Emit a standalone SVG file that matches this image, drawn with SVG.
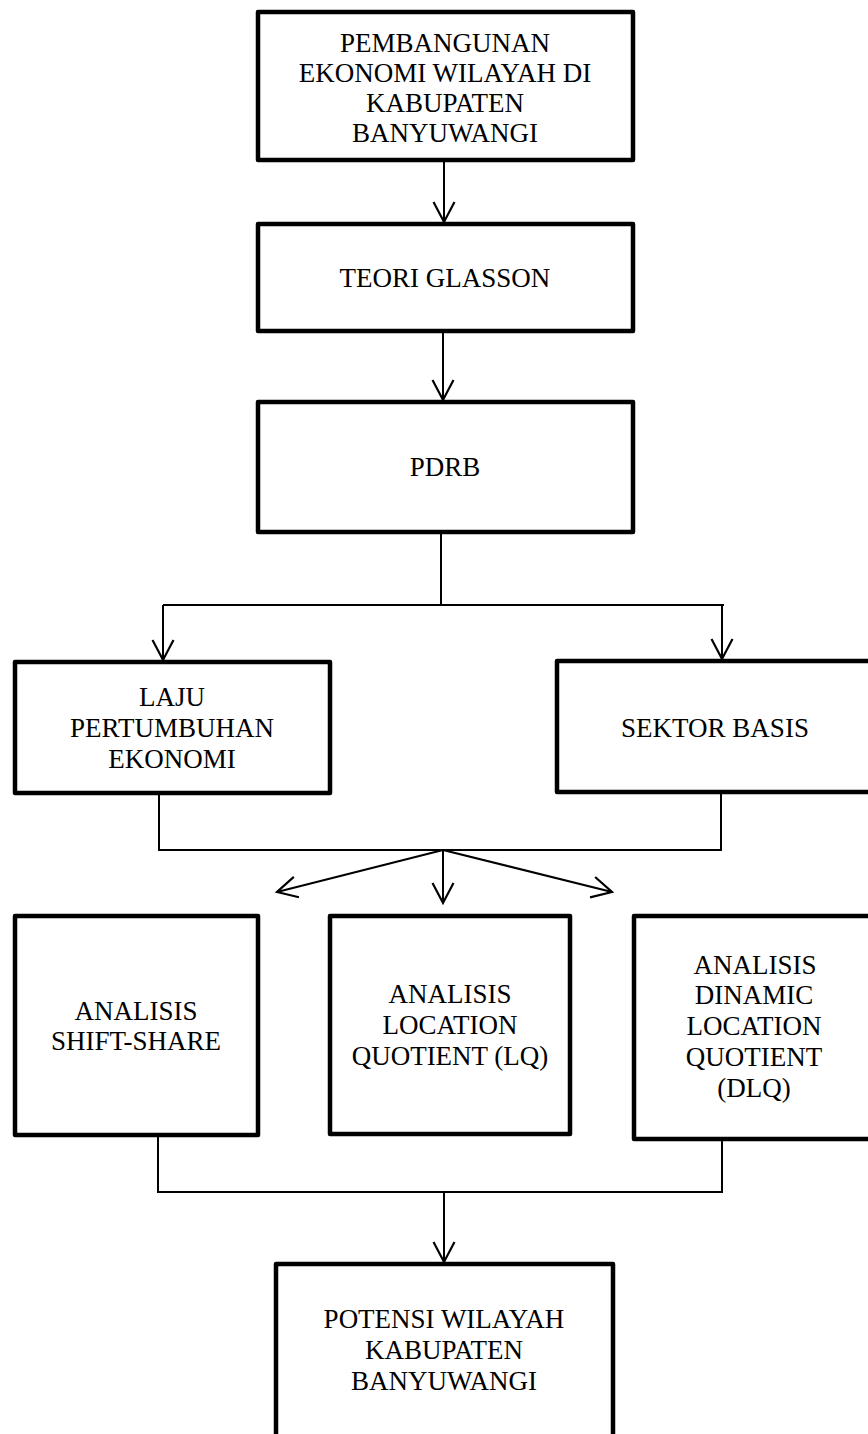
<svg xmlns="http://www.w3.org/2000/svg" width="868" height="1434" viewBox="0 0 868 1434">
<defs>
<style>
.box{fill:#fff;stroke:#000;stroke-width:4.5;stroke-linejoin:round}
.t{font-family:"Liberation Serif","Times New Roman",serif;font-size:27px;fill:#000;text-anchor:middle}
.c{fill:none;stroke:#000;stroke-width:2}
.a{fill:none;stroke:#000;stroke-width:2}
</style>
<marker id="ah" viewBox="-24 -14 28 28" markerWidth="28" markerHeight="28" refX="0" refY="0" orient="auto" markerUnits="userSpaceOnUse" overflow="visible">
<path d="M-20,-10.5 L0,0 L-20,10.5" fill="none" stroke="#000" stroke-width="2.2"/>
</marker>
</defs>
<rect width="868" height="1434" fill="#fff"/>
<g id="connectors">
<line class="a" x1="444" y1="160" x2="444" y2="222" marker-end="url(#ah)"/>
<line class="a" x1="443" y1="331" x2="443" y2="400" marker-end="url(#ah)"/>
<polyline class="c" points="441,532 441,605"/>
<polyline class="c" points="163,605 724,605"/>
<line class="a" x1="163" y1="605" x2="163" y2="660" marker-end="url(#ah)"/>
<line class="a" x1="722" y1="605" x2="722" y2="659" marker-end="url(#ah)"/>
<polyline class="c" points="159,793 159,850 721,850 721,792"/>
<line class="a" x1="443" y1="850" x2="277" y2="892" marker-end="url(#ah)"/>
<line class="a" x1="443" y1="850" x2="443" y2="903" marker-end="url(#ah)"/>
<line class="a" x1="443" y1="850" x2="612" y2="892" marker-end="url(#ah)"/>
<polyline class="c" points="158,1135 158,1192 722,1192 722,1139"/>
<line class="a" x1="444" y1="1192" x2="444" y2="1262" marker-end="url(#ah)"/>
</g>
<g id="n1"><rect class="box" x="258" y="12" width="375" height="148"/>
<text class="t" x="445" y="52">PEMBANGUNAN</text>
<text class="t" x="445" y="82">EKONOMI WILAYAH DI</text>
<text class="t" x="445" y="112">KABUPATEN</text>
<text class="t" x="445" y="142">BANYUWANGI</text></g>
<g id="n2"><rect class="box" x="258" y="224" width="375" height="107"/>
<text class="t" x="445" y="287">TEORI GLASSON</text></g>
<g id="n3"><rect class="box" x="258" y="402" width="375" height="130"/>
<text class="t" x="445" y="476">PDRB</text></g>
<g id="n4"><rect class="box" x="15" y="662" width="315" height="131"/>
<text class="t" x="172" y="706">LAJU</text>
<text class="t" x="172" y="737">PERTUMBUHAN</text>
<text class="t" x="172" y="768">EKONOMI</text></g>
<g id="n5"><rect class="box" x="557" y="661" width="330" height="131"/>
<text class="t" x="715" y="737">SEKTOR BASIS</text></g>
<g id="n6"><rect class="box" x="15" y="916" width="243" height="219"/>
<text class="t" x="136" y="1020">ANALISIS</text>
<text class="t" x="136" y="1050">SHIFT-SHARE</text></g>
<g id="n7"><rect class="box" x="330" y="916" width="240" height="218"/>
<text class="t" x="450" y="1003">ANALISIS</text>
<text class="t" x="450" y="1034">LOCATION</text>
<text class="t" x="450" y="1065">QUOTIENT (LQ)</text></g>
<g id="n8"><rect class="box" x="634" y="916" width="250" height="223"/>
<text class="t" x="755" y="974">ANALISIS</text>
<text class="t" x="754" y="1004">DINAMIC</text>
<text class="t" x="754" y="1035">LOCATION</text>
<text class="t" x="754" y="1066">QUOTIENT</text>
<text class="t" x="754" y="1097">(DLQ)</text></g>
<g id="n9"><rect class="box" x="276" y="1264" width="337" height="200"/>
<text class="t" x="444" y="1328">POTENSI WILAYAH</text>
<text class="t" x="444" y="1359">KABUPATEN</text>
<text class="t" x="444" y="1390">BANYUWANGI</text></g>
</svg>
